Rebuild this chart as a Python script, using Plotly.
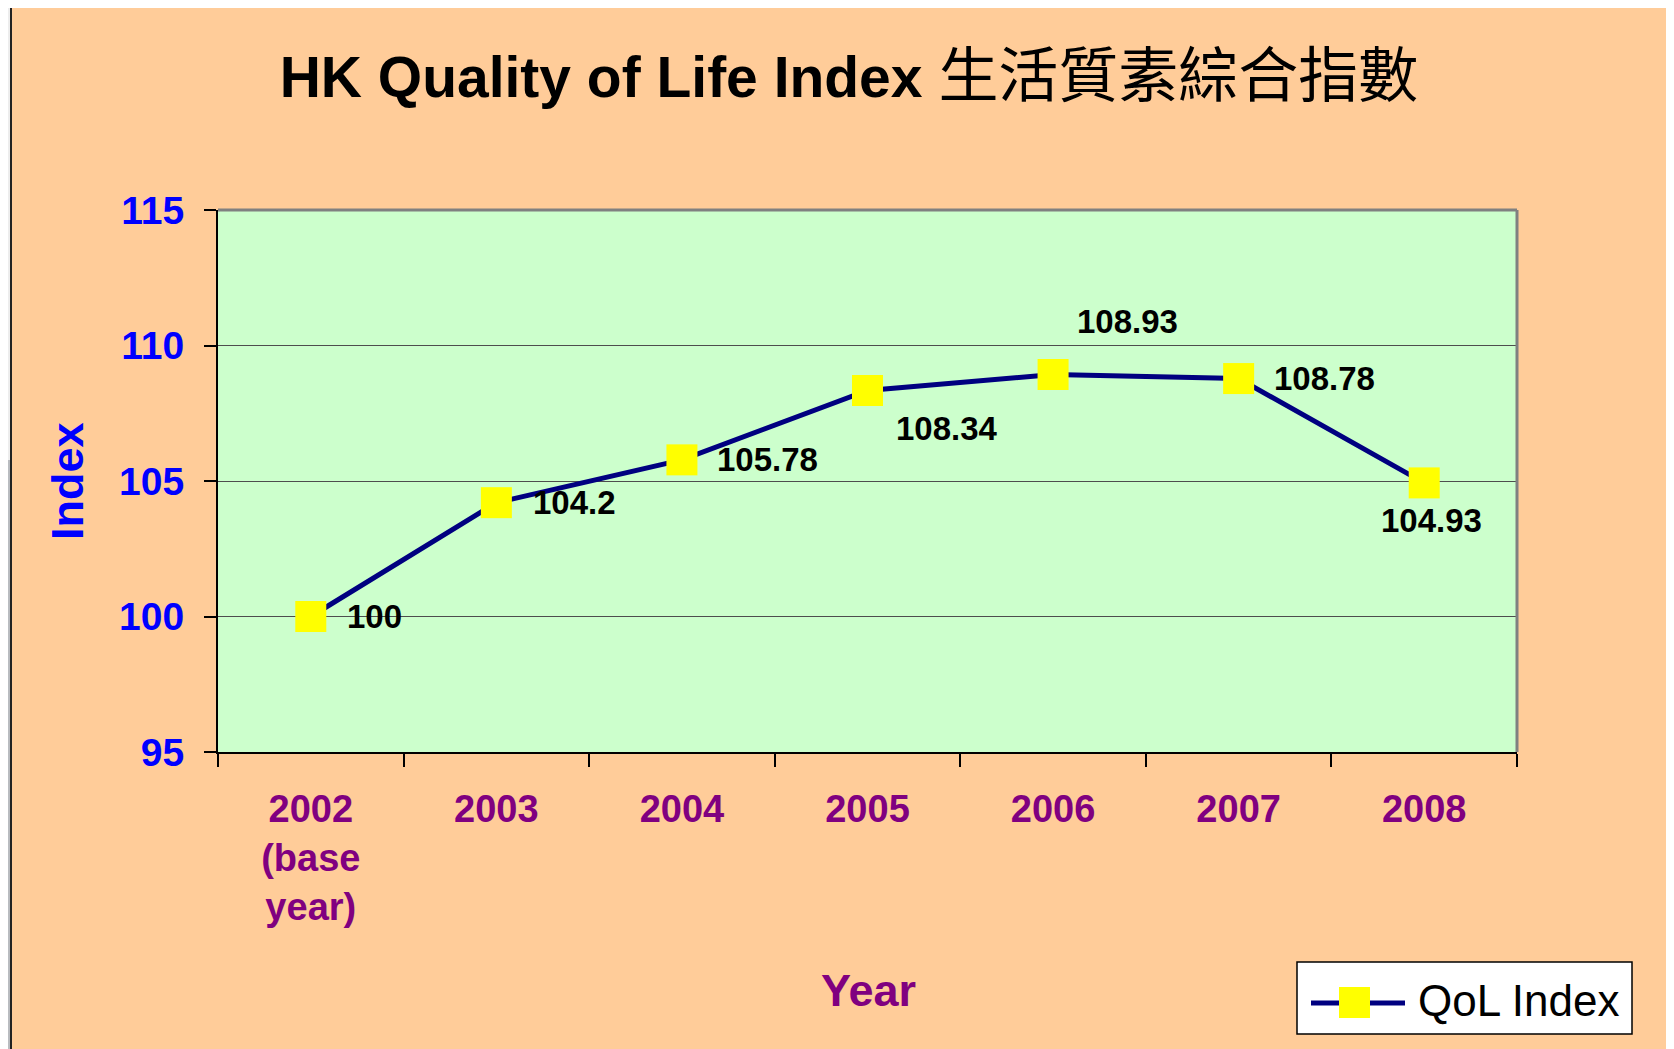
import plotly.graph_objects as go

# data
years = ["2002", "2003", "2004", "2005", "2006", "2007", "2008"]
tick_labels = ["2002<br>(base<br>year)", "2003", "2004", "2005", "2006", "2007", "2008"]
qol_index = [100, 104.2, 105.78, 108.34, 108.93, 108.78, 104.93]
series_name = "QoL Index"

# label placement per point (pixels from the marker): xanchor, xshift, yshift
label_pos = [("left", 34, 0), ("left", 35, 0), ("left", 33, 0), ("left", 26, -38),
             ("left", 22, 53), ("left", 33, 0), ("center", 7, -38)]

W, H = 1674, 1049
OX, OY = 8, 8          # the page body margin puts the figure at (8, 8)
L, R, T, B = 218, 1517, 210, 752  # plot area in page pixels

def px_x(px):
    return (px - L) / (R - L)

def px_y(py):
    return (B - py) / (B - T)

FONT = "Liberation Sans, Arial, Noto Sans CJK TC, sans-serif"
ORANGE = "#FFCC99"
BLUE = "#0000FF"
PURPLE = "#800080"

fig = go.Figure()
fig.add_trace(go.Scatter(
    x=tick_labels, y=qol_index, mode="lines+markers", name=series_name,
    line=dict(color="#000080", width=5),
    marker=dict(symbol="square", size=31, color="#FFFF00", line=dict(width=0)),
    showlegend=False, hoverinfo="x+y"))

annotations = []
# data labels
for i, v in enumerate(qol_index):
    anchor, dx, dy = label_pos[i]
    annotations.append(dict(x=i, y=v, xref="x", yref="y", text=f"{v:g}", showarrow=False,
                            xanchor=anchor, yanchor="middle", xshift=dx, yshift=dy,
                            font=dict(family=FONT, size=33, color="black", weight="bold")))

annotations += [
    dict(xref="paper", yref="paper", x=px_x(1416), y=px_y(1001), text=series_name, showarrow=False,
         xanchor="left", yanchor="middle", font=dict(family=FONT, size=44, color="black")),
    dict(xref="paper", yref="paper", x=px_x(868), y=px_y(990), text="<b>Year</b>", showarrow=False,
         xanchor="center", yanchor="middle", font=dict(family=FONT, size=45, color=PURPLE)),
    dict(xref="paper", yref="paper", x=px_x(67), y=px_y(481), text="<b>Index</b>", showarrow=False,
         textangle=-90, xanchor="center", yanchor="middle", font=dict(family=FONT, size=45, color=BLUE)),
]

shapes = [
    # page strips outside the slide
    dict(type="rect", xref="paper", yref="paper", x0=px_x(0), x1=px_x(W + 5), y0=px_y(6), y1=px_y(0),
         fillcolor="#EFEFEF", line_width=0, layer="below"),
    dict(type="rect", xref="paper", yref="paper", x0=px_x(0), x1=px_x(11), y0=px_y(H + 5), y1=px_y(0),
         fillcolor="#EDEDED", line_width=0, layer="below"),
    dict(type="rect", xref="paper", yref="paper", x0=px_x(0), x1=px_x(11), y0=px_y(H + 5), y1=px_y(460),
         fillcolor="#B9BCC0", line_width=0, layer="below"),
    # slide border
    dict(type="line", xref="paper", yref="paper", x0=px_x(11), x1=px_x(W + 5), y0=px_y(6), y1=px_y(6),
         line=dict(color="#222222", width=2), layer="below"),
    dict(type="line", xref="paper", yref="paper", x0=px_x(11), x1=px_x(11), y0=px_y(H + 5), y1=px_y(6),
         line=dict(color="#222222", width=2), layer="below"),
    # plot area border (top / right)
    dict(type="line", xref="paper", yref="paper", x0=0, x1=1, y0=1, y1=1,
         line=dict(color="#808080", width=3)),
    dict(type="line", xref="paper", yref="paper", x0=1, x1=1, y0=0, y1=1,
         line=dict(color="#808080", width=3)),
    # legend box
    dict(type="rect", xref="paper", yref="paper", x0=px_x(1297), x1=px_x(1632), y0=px_y(1034), y1=px_y(962),
         fillcolor="white", line=dict(color="black", width=1.5)),
    dict(type="line", xref="paper", yref="paper", x0=px_x(1311), x1=px_x(1405), y0=px_y(1003), y1=px_y(1003),
         line=dict(color="#000080", width=5)),
    dict(type="rect", xref="paper", yref="paper", x0=px_x(1339), x1=px_x(1370), y0=px_y(1018), y1=px_y(987),
         fillcolor="#FFFF00", line_width=0),
]

fig.update_layout(
    width=W - OX, height=H - OY,
    margin=dict(l=L - OX, r=W - R, t=T - OY, b=H - B, pad=0),
    paper_bgcolor=ORANGE, plot_bgcolor="#CCFFCC",
    title=dict(text='<b>HK Quality of Life Index</b> <span style="font-size:60px">生活質素綜合指數</span>',
               x=(849 - OX) / (W - OX), y=1 - (77 - OY) / (H - OY), xref="container", yref="container",
               xanchor="center", yanchor="middle",
               font=dict(family=FONT, size=57, color="black")),
    shapes=shapes, annotations=annotations,
    showlegend=False,
)

fig.update_xaxes(
    type="category", range=[-0.5, 6.5], showgrid=False, zeroline=False,
    showline=True, linecolor="black", linewidth=2,
    ticks="outside", tickson="boundaries", ticklen=13, tickcolor="black", tickwidth=1.5,
    ticklabelstandoff=22,
    tickfont=dict(family=FONT, size=38, color=PURPLE, weight="bold"))

fig.update_yaxes(
    range=[95, 115], dtick=5, showgrid=True, gridcolor="#4D4D4D", gridwidth=1, zeroline=False,
    showline=True, linecolor="black", linewidth=2,
    ticks="outside", ticklen=12, tickcolor="black", tickwidth=1.5,
    ticklabelstandoff=12,
    tickfont=dict(family=FONT, size=39, color=BLUE, weight="bold"))

fig.write_html("out.html")
